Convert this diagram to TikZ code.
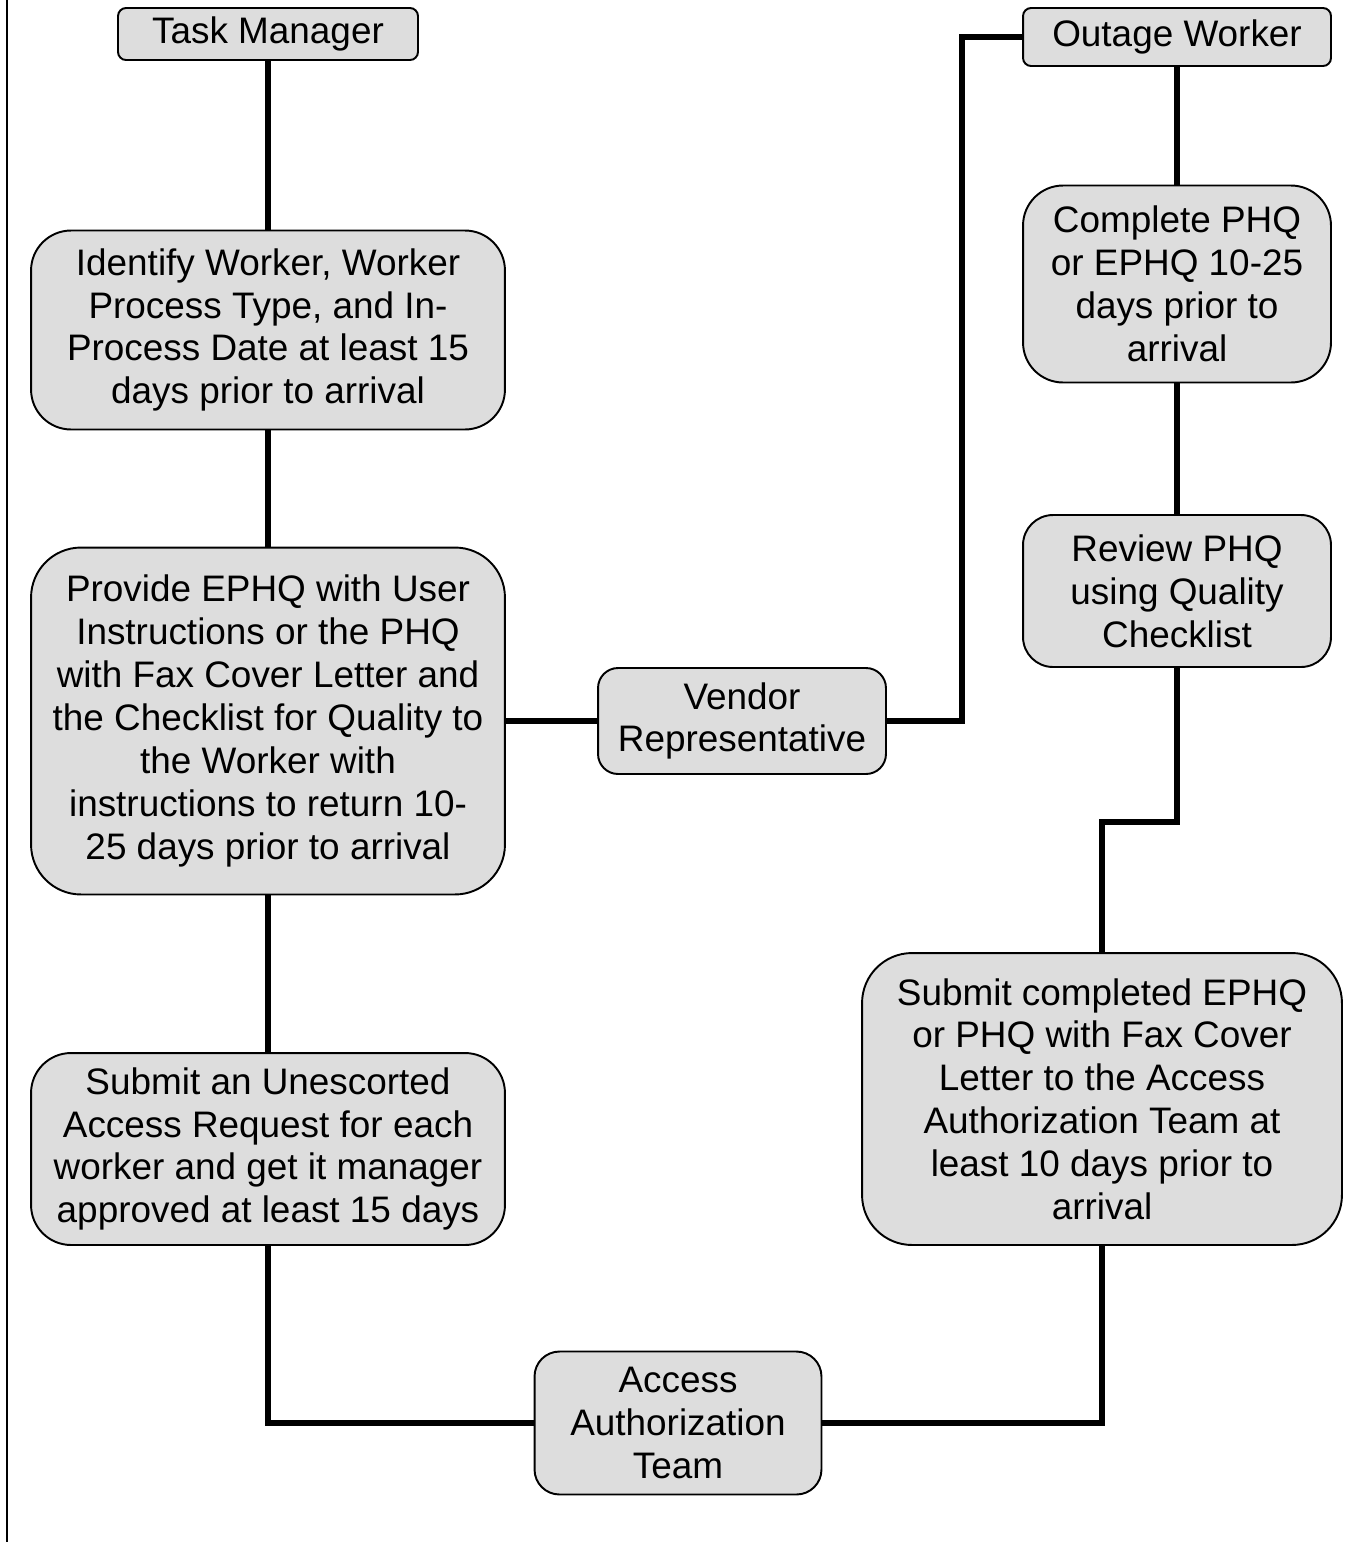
\documentclass[tikz,border=0pt]{standalone}
\usepackage{fontspec}
\setmainfont{Liberation Sans}
\definecolor{boxgray}{HTML}{DDDDDD}
\tikzset{
  box/.style={draw, fill=boxgray, line width=1.1pt, align=center, inner sep=0pt,
    font=\fontsize{21}{24.4}\selectfont},
  wire/.style={line width=3.4pt}
}
\begin{document}
\begin{tikzpicture}[x=0.02cm,y=-0.02cm]
\useasboundingbox (0,0) rectangle (1348,1542);
\draw[line width=1.1pt] (7,0) -- (7,1542);
%%%% left column
\node[box, rounded corners=0.16cm, minimum width=6cm, minimum height=1.04cm] (task) at (268,34) {Task Manager};
\node[box, rounded corners=0.8cm, minimum width=9.48cm, minimum height=3.98cm] (ident) at (268,330)
  {Identify Worker, Worker\\Process Type, and In-\\Process Date at least 15\\days prior to arrival};
\node[box, rounded corners=1cm, minimum width=9.48cm, minimum height=6.94cm] (provide) at (268,721)
  {Provide EPHQ with User\\Instructions or the PHQ\\with Fax Cover Letter and\\the Checklist for Quality to\\the Worker with\\instructions to return 10-\\25 days prior to arrival};
\node[box, rounded corners=0.8cm, minimum width=9.48cm, minimum height=3.84cm] (unesc) at (268,1149)
  {Submit an Unescorted\\Access Request for each\\worker and get it manager\\approved at least 15 days};
%%%% middle
\node[box, rounded corners=0.4cm, minimum width=5.76cm, minimum height=2.12cm] (vendor) at (742,721)
  {Vendor\\Representative};
\node[box, rounded corners=0.5cm, minimum width=5.74cm, minimum height=2.86cm] (aat) at (678,1423)
  {Access\\Authorization\\Team};
%%%% right column
\node[box, rounded corners=0.16cm, minimum width=6.16cm, minimum height=1.16cm] (outage) at (1177,37) {Outage Worker};
\node[box, rounded corners=0.8cm, minimum width=6.16cm, minimum height=3.94cm] (complete) at (1177,284)
  {Complete PHQ\\or EPHQ 10-25\\days prior to\\arrival};
\node[box, rounded corners=0.6cm, minimum width=6.16cm, minimum height=3.04cm] (review) at (1177,591)
  {Review PHQ\\using Quality\\Checklist};
\node[box, rounded corners=1cm, minimum width=9.6cm, minimum height=5.84cm] (submitc) at (1102,1099)
  {Submit completed EPHQ\\or PHQ with Fax Cover\\Letter to the Access\\Authorization Team at\\least 10 days prior to\\arrival};
\coordinate (bendA) at (962,400);
\coordinate (bendB) at (1140,822);
%%%% connectors
\draw[wire] (task) -- (ident);
\draw[wire] (ident) -- (provide);
\draw[wire] (provide) -- (unesc);
\draw[wire] (provide.east) -- (vendor.west);
\draw[wire] (vendor.east) -| (bendA) |- (outage.west);
\draw[wire] (outage) -- (complete);
\draw[wire] (complete) -- (review);
\draw[wire] (review.south) |- (bendB) -| (submitc.north);
\draw[wire] (unesc.south) |- (aat.west);
\draw[wire] (aat.east) -| (submitc.south);
\end{tikzpicture}
\end{document}
